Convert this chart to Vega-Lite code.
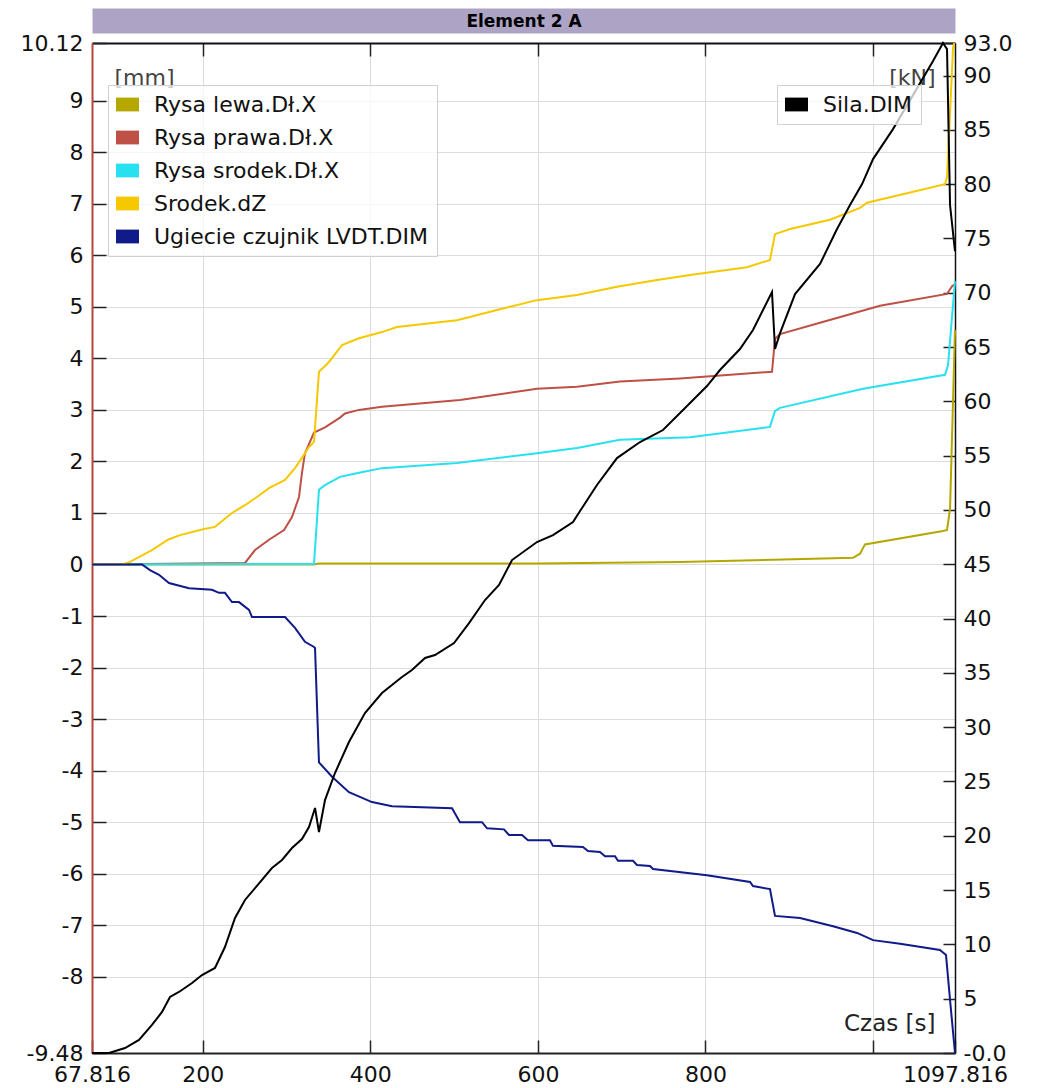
{
  "$schema": "https://vega.github.io/schema/vega-lite/v6.json",
  "width": 863,
  "height": 1010,
  "autosize": {"type": "none"},
  "padding": {"left": 92, "top": 43, "right": 82, "bottom": 35},
  "background": "white",
  "config": {
    "font": "DejaVu Sans",
    "view": {"stroke": null},
    "axis": {
      "labelFont": "DejaVu Sans", "labelFontSize": 22, "labelColor": "#111111",
      "titleFont": "DejaVu Sans", "titleFontSize": 22, "titleFontWeight": "normal", "titleColor": "#444444",
      "tickColor": "#222222", "tickWidth": 1.5, "domainColor": "#222222", "domainWidth": 1.5,
      "labelFlush": false, "labelOverlap": false, "labelBound": false,
      "gridColor": "#dcdcdc", "gridWidth": 1
    },
    "legend": {
      "labelFont": "DejaVu Sans", "labelFontSize": 22, "labelColor": "#111111", "labelLimit": 800,
      "symbolType": "M-1,-0.6H1V0.6H-1Z", "symbolStrokeWidth": 0, "symbolSize": 529,
      "fillColor": "rgba(255,255,255,0.75)", "strokeColor": "#d0d0d0", "padding": 8,
      "labelOffset": 15, "rowPadding": 10
    }
  },
  "datasets": {
    "mm": [
      {"s":"Rysa lewa.Dł.X","t":67.8,"v":0},{"s":"Rysa lewa.Dł.X","t":332.8,"v":0},{"s":"Rysa lewa.Dł.X","t":338.7,"v":0.02},{"s":"Rysa lewa.Dł.X","t":598.9,"v":0.02},{"s":"Rysa lewa.Dł.X","t":769.6,"v":0.05},{"s":"Rysa lewa.Dł.X","t":880.6,"v":0.09},{"s":"Rysa lewa.Dł.X","t":976.1,"v":0.13},{"s":"Rysa lewa.Dł.X","t":984.5,"v":0.21},{"s":"Rysa lewa.Dł.X","t":990.4,"v":0.39},{"s":"Rysa lewa.Dł.X","t":1083.5,"v":0.65},{"s":"Rysa lewa.Dł.X","t":1088.3,"v":0.67},{"s":"Rysa lewa.Dł.X","t":1091.9,"v":1.08},{"s":"Rysa lewa.Dł.X","t":1097.8,"v":4.55},
      {"s":"Rysa prawa.Dł.X","t":67.8,"v":0},{"s":"Rysa prawa.Dł.X","t":250.4,"v":0.03},{"s":"Rysa prawa.Dł.X","t":262.4,"v":0.28},{"s":"Rysa prawa.Dł.X","t":279.1,"v":0.48},{"s":"Rysa prawa.Dł.X","t":297.0,"v":0.67},{"s":"Rysa prawa.Dł.X","t":306.5,"v":0.92},{"s":"Rysa prawa.Dł.X","t":314.9,"v":1.31},{"s":"Rysa prawa.Dł.X","t":318.4,"v":1.78},{"s":"Rysa prawa.Dł.X","t":322.0,"v":2.16},{"s":"Rysa prawa.Dł.X","t":332.8,"v":2.56},{"s":"Rysa prawa.Dł.X","t":345.9,"v":2.66},{"s":"Rysa prawa.Dł.X","t":363.8,"v":2.85},{"s":"Rysa prawa.Dł.X","t":369.8,"v":2.93},{"s":"Rysa prawa.Dł.X","t":386.5,"v":3.0},{"s":"Rysa prawa.Dł.X","t":413.9,"v":3.06},{"s":"Rysa prawa.Dł.X","t":507.0,"v":3.19},{"s":"Rysa prawa.Dł.X","t":598.9,"v":3.41},{"s":"Rysa prawa.Dł.X","t":646.7,"v":3.45},{"s":"Rysa prawa.Dł.X","t":698.0,"v":3.55},{"s":"Rysa prawa.Dł.X","t":769.6,"v":3.61},{"s":"Rysa prawa.Dł.X","t":879.4,"v":3.74},{"s":"Rysa prawa.Dł.X","t":883.0,"v":4.38},{"s":"Rysa prawa.Dł.X","t":889.0,"v":4.47},{"s":"Rysa prawa.Dł.X","t":936.7,"v":4.69},{"s":"Rysa prawa.Dł.X","t":1008.3,"v":5.02},{"s":"Rysa prawa.Dł.X","t":1088.3,"v":5.25},{"s":"Rysa prawa.Dł.X","t":1094.3,"v":5.40},{"s":"Rysa prawa.Dł.X","t":1097.8,"v":5.44},
      {"s":"Rysa srodek.Dł.X","t":67.8,"v":0},{"s":"Rysa srodek.Dł.X","t":332.8,"v":0.01},{"s":"Rysa srodek.Dł.X","t":338.7,"v":1.45},{"s":"Rysa srodek.Dł.X","t":345.9,"v":1.54},{"s":"Rysa srodek.Dł.X","t":363.8,"v":1.70},{"s":"Rysa srodek.Dł.X","t":386.5,"v":1.78},{"s":"Rysa srodek.Dł.X","t":413.9,"v":1.87},{"s":"Rysa srodek.Dł.X","t":503.4,"v":1.97},{"s":"Rysa srodek.Dł.X","t":598.9,"v":2.16},{"s":"Rysa srodek.Dł.X","t":646.7,"v":2.26},{"s":"Rysa srodek.Dł.X","t":698.0,"v":2.42},{"s":"Rysa srodek.Dł.X","t":781.5,"v":2.47},{"s":"Rysa srodek.Dł.X","t":877.0,"v":2.67},{"s":"Rysa srodek.Dł.X","t":883.0,"v":2.98},{"s":"Rysa srodek.Dł.X","t":889.0,"v":3.04},{"s":"Rysa srodek.Dł.X","t":988.0,"v":3.41},{"s":"Rysa srodek.Dł.X","t":1085.9,"v":3.68},{"s":"Rysa srodek.Dł.X","t":1089.5,"v":3.87},{"s":"Rysa srodek.Dł.X","t":1097.8,"v":5.50},
      {"s":"Srodek.dZ","t":67.8,"v":0},{"s":"Srodek.dZ","t":103.6,"v":0},{"s":"Srodek.dZ","t":113.2,"v":0.05},{"s":"Srodek.dZ","t":139.4,"v":0.28},{"s":"Srodek.dZ","t":158.5,"v":0.48},{"s":"Srodek.dZ","t":172.8,"v":0.57},{"s":"Srodek.dZ","t":201.5,"v":0.69},{"s":"Srodek.dZ","t":214.6,"v":0.73},{"s":"Srodek.dZ","t":234.9,"v":1.0},{"s":"Srodek.dZ","t":250.4,"v":1.15},{"s":"Srodek.dZ","t":264.7,"v":1.31},{"s":"Srodek.dZ","t":279.1,"v":1.48},{"s":"Srodek.dZ","t":298.2,"v":1.64},{"s":"Srodek.dZ","t":310.1,"v":1.87},{"s":"Srodek.dZ","t":318.4,"v":2.07},{"s":"Srodek.dZ","t":326.8,"v":2.28},{"s":"Srodek.dZ","t":332.8,"v":2.38},{"s":"Srodek.dZ","t":338.7,"v":3.74},{"s":"Srodek.dZ","t":350.7,"v":3.93},{"s":"Srodek.dZ","t":366.2,"v":4.26},{"s":"Srodek.dZ","t":386.5,"v":4.39},{"s":"Srodek.dZ","t":413.9,"v":4.51},{"s":"Srodek.dZ","t":431.8,"v":4.61},{"s":"Srodek.dZ","t":503.4,"v":4.74},{"s":"Srodek.dZ","t":551.2,"v":4.94},{"s":"Srodek.dZ","t":598.9,"v":5.13},{"s":"Srodek.dZ","t":646.7,"v":5.23},{"s":"Srodek.dZ","t":694.4,"v":5.39},{"s":"Srodek.dZ","t":742.2,"v":5.52},{"s":"Srodek.dZ","t":781.5,"v":5.62},{"s":"Srodek.dZ","t":849.6,"v":5.77},{"s":"Srodek.dZ","t":877.0,"v":5.91},{"s":"Srodek.dZ","t":883.0,"v":6.41},{"s":"Srodek.dZ","t":900.9,"v":6.51},{"s":"Srodek.dZ","t":948.7,"v":6.69},{"s":"Srodek.dZ","t":984.5,"v":6.92},{"s":"Srodek.dZ","t":992.8,"v":7.02},{"s":"Srodek.dZ","t":1085.9,"v":7.38},{"s":"Srodek.dZ","t":1088.3,"v":7.52},{"s":"Srodek.dZ","t":1095.5,"v":10.04},{"s":"Srodek.dZ","t":1097.0,"v":10.12},
      {"s":"Ugiecie czujnik LVDT.DIM","t":67.8,"v":0},{"s":"Ugiecie czujnik LVDT.DIM","t":127.5,"v":0},{"s":"Ugiecie czujnik LVDT.DIM","t":137.0,"v":-0.11},{"s":"Ugiecie czujnik LVDT.DIM","t":147.8,"v":-0.20},{"s":"Ugiecie czujnik LVDT.DIM","t":159.7,"v":-0.36},{"s":"Ugiecie czujnik LVDT.DIM","t":183.6,"v":-0.46},{"s":"Ugiecie czujnik LVDT.DIM","t":211.0,"v":-0.49},{"s":"Ugiecie czujnik LVDT.DIM","t":219.4,"v":-0.55},{"s":"Ugiecie czujnik LVDT.DIM","t":226.5,"v":-0.55},{"s":"Ugiecie czujnik LVDT.DIM","t":234.9,"v":-0.73},{"s":"Ugiecie czujnik LVDT.DIM","t":243.3,"v":-0.73},{"s":"Ugiecie czujnik LVDT.DIM","t":255.2,"v":-0.88},{"s":"Ugiecie czujnik LVDT.DIM","t":258.8,"v":-1.02},{"s":"Ugiecie czujnik LVDT.DIM","t":298.2,"v":-1.02},{"s":"Ugiecie czujnik LVDT.DIM","t":310.1,"v":-1.23},{"s":"Ugiecie czujnik LVDT.DIM","t":322.0,"v":-1.50},{"s":"Ugiecie czujnik LVDT.DIM","t":332.8,"v":-1.60},{"s":"Ugiecie czujnik LVDT.DIM","t":334.0,"v":-1.62},{"s":"Ugiecie czujnik LVDT.DIM","t":338.7,"v":-3.84},{"s":"Ugiecie czujnik LVDT.DIM","t":354.3,"v":-4.12},{"s":"Ugiecie czujnik LVDT.DIM","t":374.5,"v":-4.42},{"s":"Ugiecie czujnik LVDT.DIM","t":402.0,"v":-4.61},{"s":"Ugiecie czujnik LVDT.DIM","t":425.9,"v":-4.69},{"s":"Ugiecie czujnik LVDT.DIM","t":497.5,"v":-4.73},{"s":"Ugiecie czujnik LVDT.DIM","t":507.0,"v":-5.00},{"s":"Ugiecie czujnik LVDT.DIM","t":533.3,"v":-5.00},{"s":"Ugiecie czujnik LVDT.DIM","t":539.3,"v":-5.12},{"s":"Ugiecie czujnik LVDT.DIM","t":559.5,"v":-5.14},{"s":"Ugiecie czujnik LVDT.DIM","t":565.5,"v":-5.25},{"s":"Ugiecie czujnik LVDT.DIM","t":581.0,"v":-5.25},{"s":"Ugiecie czujnik LVDT.DIM","t":588.2,"v":-5.35},{"s":"Ugiecie czujnik LVDT.DIM","t":614.4,"v":-5.35},{"s":"Ugiecie czujnik LVDT.DIM","t":618.0,"v":-5.46},{"s":"Ugiecie czujnik LVDT.DIM","t":653.8,"v":-5.48},{"s":"Ugiecie czujnik LVDT.DIM","t":659.8,"v":-5.56},{"s":"Ugiecie czujnik LVDT.DIM","t":674.1,"v":-5.58},{"s":"Ugiecie czujnik LVDT.DIM","t":680.1,"v":-5.66},{"s":"Ugiecie czujnik LVDT.DIM","t":692.0,"v":-5.66},{"s":"Ugiecie czujnik LVDT.DIM","t":695.6,"v":-5.75},{"s":"Ugiecie czujnik LVDT.DIM","t":713.5,"v":-5.75},{"s":"Ugiecie czujnik LVDT.DIM","t":718.3,"v":-5.83},{"s":"Ugiecie czujnik LVDT.DIM","t":733.8,"v":-5.85},{"s":"Ugiecie czujnik LVDT.DIM","t":737.4,"v":-5.91},{"s":"Ugiecie czujnik LVDT.DIM","t":801.8,"v":-6.03},{"s":"Ugiecie czujnik LVDT.DIM","t":853.2,"v":-6.16},{"s":"Ugiecie czujnik LVDT.DIM","t":856.7,"v":-6.24},{"s":"Ugiecie czujnik LVDT.DIM","t":877.0,"v":-6.30},{"s":"Ugiecie czujnik LVDT.DIM","t":883.0,"v":-6.82},{"s":"Ugiecie czujnik LVDT.DIM","t":912.9,"v":-6.86},{"s":"Ugiecie czujnik LVDT.DIM","t":952.3,"v":-7.02},{"s":"Ugiecie czujnik LVDT.DIM","t":980.9,"v":-7.15},{"s":"Ugiecie czujnik LVDT.DIM","t":1000.0,"v":-7.29},{"s":"Ugiecie czujnik LVDT.DIM","t":1032.2,"v":-7.36},{"s":"Ugiecie czujnik LVDT.DIM","t":1079.9,"v":-7.48},{"s":"Ugiecie czujnik LVDT.DIM","t":1087.1,"v":-7.58},{"s":"Ugiecie czujnik LVDT.DIM","t":1091.9,"v":-8.45},{"s":"Ugiecie czujnik LVDT.DIM","t":1097.8,"v":-9.48}
    ],
    "kn": [
      {"s":"Sila.DIM","t":67.8,"v":0},{"s":"Sila.DIM","t":88.1,"v":0},{"s":"Sila.DIM","t":107.2,"v":0.46},{"s":"Sila.DIM","t":123.9,"v":1.20},{"s":"Sila.DIM","t":139.4,"v":2.58},{"s":"Sila.DIM","t":151.4,"v":3.78},{"s":"Sila.DIM","t":160.9,"v":5.16},{"s":"Sila.DIM","t":171.6,"v":5.62},{"s":"Sila.DIM","t":187.2,"v":6.45},{"s":"Sila.DIM","t":199.1,"v":7.18},{"s":"Sila.DIM","t":214.6,"v":7.83},{"s":"Sila.DIM","t":226.5,"v":9.76},{"s":"Sila.DIM","t":238.5,"v":12.43},{"s":"Sila.DIM","t":250.4,"v":14.09},{"s":"Sila.DIM","t":262.4,"v":15.19},{"s":"Sila.DIM","t":282.6,"v":17.03},{"s":"Sila.DIM","t":294.6,"v":17.77},{"s":"Sila.DIM","t":306.5,"v":18.87},{"s":"Sila.DIM","t":318.4,"v":19.70},{"s":"Sila.DIM","t":326.8,"v":20.81},{"s":"Sila.DIM","t":334.0,"v":22.56},{"s":"Sila.DIM","t":338.7,"v":20.35},{"s":"Sila.DIM","t":345.9,"v":23.29},{"s":"Sila.DIM","t":357.8,"v":25.78},{"s":"Sila.DIM","t":374.5,"v":28.63},{"s":"Sila.DIM","t":393.6,"v":31.30},{"s":"Sila.DIM","t":413.9,"v":33.15},{"s":"Sila.DIM","t":437.8,"v":34.62},{"s":"Sila.DIM","t":449.7,"v":35.26},{"s":"Sila.DIM","t":465.3,"v":36.37},{"s":"Sila.DIM","t":477.2,"v":36.64},{"s":"Sila.DIM","t":499.9,"v":37.75},{"s":"Sila.DIM","t":517.8,"v":39.59},{"s":"Sila.DIM","t":536.9,"v":41.71},{"s":"Sila.DIM","t":553.6,"v":43.09},{"s":"Sila.DIM","t":569.1,"v":45.39},{"s":"Sila.DIM","t":598.9,"v":47.05},{"s":"Sila.DIM","t":618.0,"v":47.69},{"s":"Sila.DIM","t":641.9,"v":48.89},{"s":"Sila.DIM","t":650.3,"v":49.90},{"s":"Sila.DIM","t":670.5,"v":52.30},{"s":"Sila.DIM","t":694.4,"v":54.78},{"s":"Sila.DIM","t":721.9,"v":56.26},{"s":"Sila.DIM","t":749.3,"v":57.36},{"s":"Sila.DIM","t":778.0,"v":59.57},{"s":"Sila.DIM","t":801.8,"v":61.41},{"s":"Sila.DIM","t":817.3,"v":62.89},{"s":"Sila.DIM","t":841.2,"v":64.82},{"s":"Sila.DIM","t":856.7,"v":66.57},{"s":"Sila.DIM","t":879.4,"v":70.07},{"s":"Sila.DIM","t":883.0,"v":64.82},{"s":"Sila.DIM","t":889.0,"v":66.29},{"s":"Sila.DIM","t":906.9,"v":69.88},{"s":"Sila.DIM","t":936.7,"v":72.65},{"s":"Sila.DIM","t":957.0,"v":75.87},{"s":"Sila.DIM","t":972.5,"v":78.08},{"s":"Sila.DIM","t":986.9,"v":80.01},{"s":"Sila.DIM","t":1000.0,"v":82.31},{"s":"Sila.DIM","t":1023.8,"v":85.07},{"s":"Sila.DIM","t":1047.7,"v":88.20},{"s":"Sila.DIM","t":1071.6,"v":91.34},{"s":"Sila.DIM","t":1083.5,"v":93.0},{"s":"Sila.DIM","t":1088.3,"v":92.44},{"s":"Sila.DIM","t":1091.9,"v":78.08},{"s":"Sila.DIM","t":1097.8,"v":73.84}
    ]
  },
  "layer": [
    {
      "data": {"name": "kn"},
      "mark": {"type": "line", "opacity": 0},
      "encoding": {
        "x": {"field": "t", "type": "quantitative", "scale": {"domain": [67.816, 1097.816], "nice": false, "zero": false},
          "axis": {"orient": "top", "offset": 22.5, "domainWidth": 25, "domainColor": "#ada4c5", "ticks": false, "labels": false, "grid": false,
            "title": "Element 2 A", "titleFontWeight": "bold", "titleFontSize": 17, "titleColor": "#000000", "titleBaseline": "middle", "titleY": 1, "titleX": 431.5, "titleAlign": "center"}},
        "y": {"field": "v", "type": "quantitative", "scale": {"domain": [0, 93], "nice": false, "zero": false}, "axis": null}
      }
    },
    {
      "data": {"name": "mm"},
      "mark": {"type": "line", "strokeWidth": 2},
      "encoding": {
        "x": {"field": "t", "type": "quantitative", "scale": {"domain": [67.816, 1097.816], "nice": false, "zero": false},
          "axis": {"orient": "bottom", "values": [67.816, 200, 400, 600, 800, 1000, 1097.816], "labelExpr": "datum.value == 1000 ? '' : '' + datum.value",
            "tickSize": -13, "labelPadding": 24, "domainWidth": 2, "grid": true,
            "title": "Czas [s]", "titleX": 843, "titleY": -30, "titleAlign": "right", "titleBaseline": "middle", "titleColor": "#222222", "titleFontSize": 23}},
        "y": {"field": "v", "type": "quantitative", "scale": {"domain": [-9.48, 10.12], "nice": false, "zero": false},
          "axis": {"orient": "left", "values": [-9.48, -8, -7, -6, -5, -4, -3, -2, -1, 0, 1, 2, 3, 4, 5, 6, 7, 8, 9, 10.12], "labelExpr": "'' + datum.value",
            "tickSize": -14, "labelPadding": 23, "domainColor": "#b5473a", "domainWidth": 2, "grid": true,
            "title": "[mm]", "titleAngle": 0, "titleX": 22, "titleY": 34, "titleAlign": "left", "titleBaseline": "middle"}},
        "color": {"field": "s", "type": "nominal",
          "scale": {"domain": ["Rysa lewa.Dł.X", "Rysa prawa.Dł.X", "Rysa srodek.Dł.X", "Srodek.dZ", "Ugiecie czujnik LVDT.DIM"], "range": ["#b4a800", "#be5046", "#28e1f0", "#f5c800", "#101a88"]},
          "legend": {"orient": "none", "legendX": 16, "legendY": 42, "title": null,
            "encode": {"symbols": {"update": {"fill": {"signal": "datum.value === 'Rysa lewa.Dł.X' ? '#b4a800' : datum.value === 'Rysa prawa.Dł.X' ? '#be5046' : datum.value === 'Rysa srodek.Dł.X' ? '#28e1f0' : datum.value === 'Srodek.dZ' ? '#f5c800' : '#101a88'"}, "fillOpacity": {"value": 1}, "strokeWidth": {"value": 0}}}}}}
      }
    },
    {
      "data": {"name": "kn"},
      "mark": {"type": "line", "strokeWidth": 2},
      "encoding": {
        "x": {"field": "t", "type": "quantitative", "scale": {"domain": [67.816, 1097.816], "nice": false, "zero": false},
          "axis": {"orient": "top", "values": [200, 400, 600, 800, 1000], "tickSize": -13, "labels": false, "grid": false, "domainWidth": 2, "domainColor": "#111111", "title": null}},
        "y": {"field": "v", "type": "quantitative", "scale": {"domain": [0, 93], "nice": false, "zero": false},
          "axis": {"orient": "right", "values": [0, 5, 10, 15, 20, 25, 30, 35, 40, 45, 50, 55, 60, 65, 70, 75, 80, 85, 90, 93],
            "labelExpr": "datum.value == 0 ? '-0.0' : datum.value == 93 ? '93.0' : '' + datum.value",
            "tickSize": -12, "labelPadding": 20, "grid": false, "domainColor": "#111111",
            "title": "[kN]", "titleAngle": 0, "titleX": -20, "titleY": 34, "titleAlign": "right", "titleBaseline": "middle"}},
        "color": {"field": "s", "type": "nominal",
          "scale": {"domain": ["Sila.DIM"], "range": ["#000000"]},
          "legend": {"orient": "none", "legendX": 685, "legendY": 42, "title": null,
            "encode": {"symbols": {"update": {"fill": {"value": "#000000"}, "fillOpacity": {"value": 1}, "strokeWidth": {"value": 0}}}}}}
      }
    }
  ],
  "resolve": {"scale": {"y": "independent", "color": "independent"}, "axis": {"x": "independent", "y": "independent"}}
}
